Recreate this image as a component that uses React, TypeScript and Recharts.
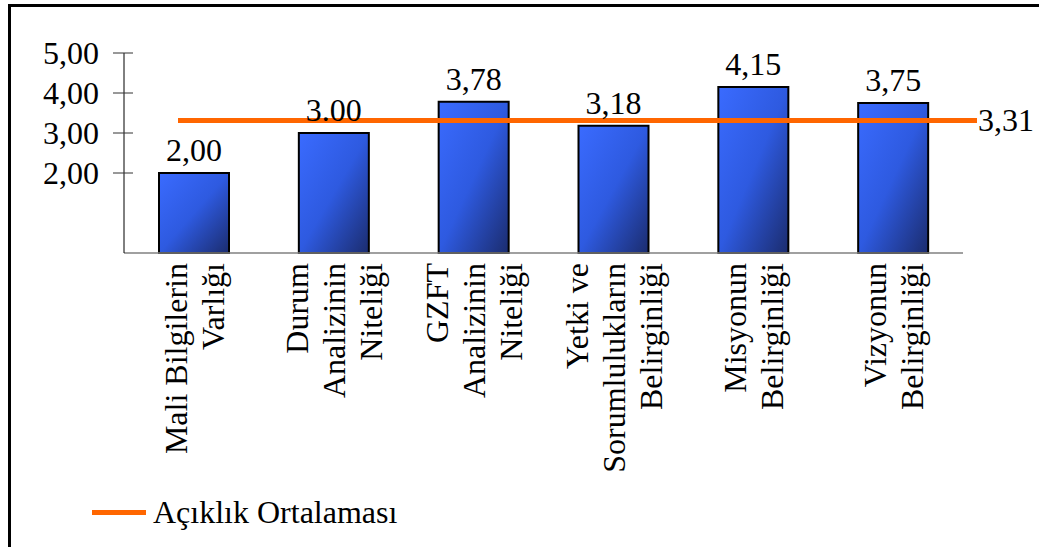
import React from 'react';
import { BarChart, Bar, XAxis, YAxis, LabelList, ReferenceLine } from 'recharts';

// Kategoriler (satır sonları etiketlerde alt alta yazılır)
const categories = [
  'Mali Bilgilerin\nVarlığı',
  'Durum\nAnalizinin\nNiteliği',
  'GZFT\nAnalizinin\nNiteliği',
  'Yetki ve\nSorumlulukların\nBelirginliği',
  'Misyonun\nBelirginliği',
  'Vizyonun\nBelirginliği',
];

const values = [2.0, 3.0, 3.78, 3.18, 4.15, 3.75];

// Çubukların üstündeki etiketler (orijinaldeki gibi)
const barLabels = ['2,00', '3.00', '3,78', '3,18', '4,15', '3,75'];

const yTicks = [2, 3, 4, 5];

const average = 3.31;
const legendLabel = 'Açıklık Ortalaması';

const FONT = 'Liberation Serif, Tinos, DejaVu Serif, serif';
const FONT_SIZE = 32;
const ORANGE = '#FF6600';

const data = categories.map((name, i) => ({
  name,
  value: values[i],
  label: barLabels[i],
}));

const fmt = (v: number) => v.toFixed(2).replace('.', ',');

const YTick = (props: any) => {
  const { x, y, payload } = props;
  return (
    <g>
      <line x1={x - 11} x2={x + 9} y1={y} y2={y} stroke="#333" strokeWidth={1} />
      <text
        x={x - 25}
        y={y}
        dy="0.34em"
        textAnchor="end"
        style={{ fontFamily: FONT, fontSize: FONT_SIZE }}
        fill="#000"
      >
        {fmt(payload.value)}
      </text>
    </g>
  );
};

const XTick = (props: any) => {
  const { x, y, payload } = props;
  const lines: string[] = String(payload.value).split('\n');
  const lineH = 37;
  return (
    <g transform={`translate(${x},${y + 10}) rotate(-90)`}>
      {lines.map((line, i) => (
        <text
          key={i}
          x={0}
          y={(i - (lines.length - 1) / 2) * lineH + FONT_SIZE * 0.35}
          textAnchor="end"
          style={{ fontFamily: FONT, fontSize: FONT_SIZE }}
          fill="#000"
        >
          {line}
        </text>
      ))}
    </g>
  );
};

// Ortalama çizgisi: orijinalde biraz sağa kaymış
const AverageLine = (props: any) => {
  const { x1, x2, y1 } = props;
  return (
    <g>
      <line x1={x1 + 54} x2={x2 + 14} y1={y1} y2={y1} stroke={ORANGE} strokeWidth={5} />
      <text
        x={x2 + 15}
        y={y1}
        dy="0.34em"
        style={{ fontFamily: FONT, fontSize: FONT_SIZE }}
        fill="#000"
      >
        {fmt(average)}
      </text>
    </g>
  );
};

export default function App() {
  return (
    <div
      style={{
        position: 'absolute',
        left: 8,
        top: 4,
        width: 1031,
        height: 543,
        borderTop: '3px solid #000',
        borderLeft: '3px solid #000',
        boxSizing: 'border-box',
        fontFamily: FONT,
        background: '#fff',
      }}
    >
      <div style={{ position: 'absolute', left: 0, top: 0 }}>
        <BarChart
          width={1028}
          height={536}
          data={data}
          margin={{ top: 46, right: 76, bottom: 20, left: 13 }}
          barSize={70}
        >
          <defs>
            <linearGradient id="barGrad" x1="0" y1="0" x2="1" y2="1">
              <stop offset="0%" stopColor="#3a6bff" />
              <stop offset="50%" stopColor="#2e5ae0" />
              <stop offset="100%" stopColor="#1b2c6e" />
            </linearGradient>
          </defs>
          <XAxis
            dataKey="name"
            interval={0}
            height={270}
            tick={<XTick />}
            tickLine={false}
            tickSize={0}
            tickMargin={0}
            axisLine={{ stroke: '#808080', strokeWidth: 1.5 }}
          />
          <YAxis
            type="number"
            domain={[0, 5]}
            ticks={yTicks}
            width={100}
            tick={<YTick />}
            tickLine={false}
            tickSize={0}
            tickMargin={0}
            axisLine={{ stroke: '#000', strokeWidth: 1 }}
          />
          <Bar
            dataKey="value"
            fill="url(#barGrad)"
            stroke="#000"
            strokeWidth={2}
            isAnimationActive={false}
          >
            <LabelList
              dataKey="label"
              position="top"
              offset={12}
              style={{ fontFamily: FONT, fontSize: FONT_SIZE, fill: '#000' }}
            />
          </Bar>
          <ReferenceLine y={average} shape={AverageLine} />
        </BarChart>
      </div>
      <div
        style={{
          position: 'absolute',
          left: 81,
          top: 489,
          display: 'flex',
          alignItems: 'center',
          height: 32,
          lineHeight: '32px',
          fontSize: FONT_SIZE,
          color: '#000',
        }}
      >
        <span style={{ display: 'inline-block', width: 54, height: 5, background: ORANGE, marginRight: 7 }} />
        <span>{legendLabel}</span>
      </div>
    </div>
  );
}
